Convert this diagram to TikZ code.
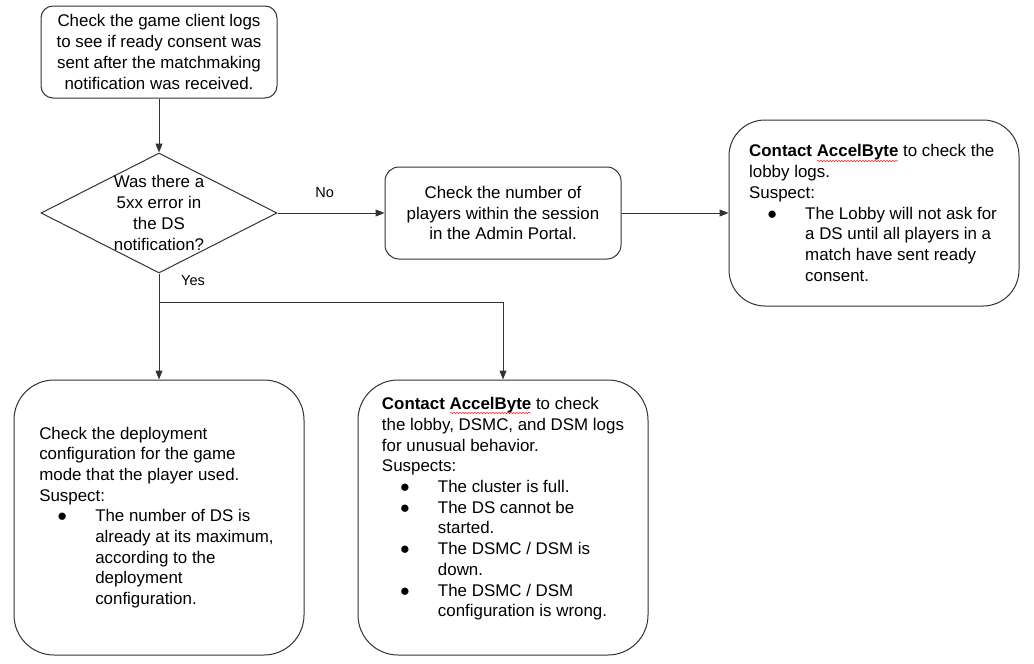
\documentclass[tikz,border=0pt]{standalone}
\usepackage{fontspec}
\setmainfont{Liberation Sans}
\usetikzlibrary{shapes.geometric,arrows.meta,decorations.pathmorphing}

\newcommand{\blt}[1]{\hspace*{23pt}\makebox[0pt]{●}\hspace*{33pt}#1}
\newcommand{\cnt}[1]{\hspace*{56pt}#1}
\newcommand{\pad}[1]{\makebox[#1]{}}

\tikzset{
  box/.style={draw=black!80,line width=1pt,fill=white,inner sep=0pt,
    font=\fontsize{16.9}{20.7}\selectfont},
  lbl/.style={font=\fontsize{14.5}{17}\selectfont,inner sep=0pt},
  arr/.style={draw=black!80,line width=1pt,-{Triangle[length=9pt,width=7pt]}},
  wavy/.style={red!85,line width=0.5pt,decorate,
    decoration={snake,amplitude=0.8pt,segment length=3pt}}
}

\begin{document}
\begin{tikzpicture}[x=1pt,y=-1pt]
	\useasboundingbox (0,0) rectangle (1034,664);

	\node [box,rounded corners=12,minimum width=236,minimum height=92,align=center] (check) at (159,52)
		{Check the game client logs\\to see if ready consent was\\sent after the matchmaking\\notification was received.};

	\node [diamond,draw=black!80,line width=1pt,minimum width=236,minimum height=120,inner sep=0pt] (q) at (159,213) {};
	\node [font=\fontsize{16.9}{20.7}\selectfont,align=center,inner sep=0pt] (qtext) at (q.center)
		{Was there a\\5xx error in\\the DS\\notification?};

	\node [box,rounded corners=14,minimum width=236,minimum height=92,align=center] (players) at (503,213)
		{Check the number of\\players within the session\\in the Admin Portal.};

	\node [box,rounded corners=36,minimum width=290,minimum height=186,align=left] (lobby) at (874,213)
		{\textbf{Contact AccelByte} to check the\\lobby logs.\\Suspect:\\
		 \blt{The Lobby will not ask for}\pad{2pt}\\\cnt{a DS until all players in a}\\
		 \cnt{match have sent ready}\\\cnt{consent.}};

	\node [box,rounded corners=40,minimum width=290,minimum height=275,align=left] (deploy) at (159,517.5)
		{Check the deployment\\configuration for the game\\mode that the player used.\\Suspect:\\
		 \blt{The number of DS is}\\\cnt{already at its maximum,}\pad{5pt}\\\cnt{according to the}\\
		 \cnt{deployment}\\\cnt{configuration.}};

	\node [box,rounded corners=40,minimum width=290,minimum height=275,align=left] (dsmc) at (503,517.5)
		{\textbf{Contact AccelByte} to check\\the lobby, DSMC, and DSM logs\\for unusual behavior.\\Suspects:\\
		 \blt{The cluster is full.}\\\blt{The DS cannot be}\\\cnt{started.}\\
		 \blt{The DSMC / DSM is}\\\cnt{down.}\\\blt{The DSMC / DSM}\\\cnt{configuration is wrong.}\\\mbox{}};

	% spelling marks under AccelByte
	\draw [wavy] (817,161) -- (898,161);
	\draw [wavy] (450,413) -- (531,413);

	\coordinate (split) at (159,302);

	\draw [arr] (check.south) -- (q.north);
	\draw [arr] (q.east) -- node [lbl,pos=0.44,above=15pt] (no) {No} (players.west);
	\draw [arr] (players.east) -- (lobby.west);
	\draw [arr] (q.south) -- (deploy.north);
	\draw [arr] (split) -| (dsmc.north);
	\node [lbl] (yes) at (193,281) {Yes};
\end{tikzpicture}
\end{document}
